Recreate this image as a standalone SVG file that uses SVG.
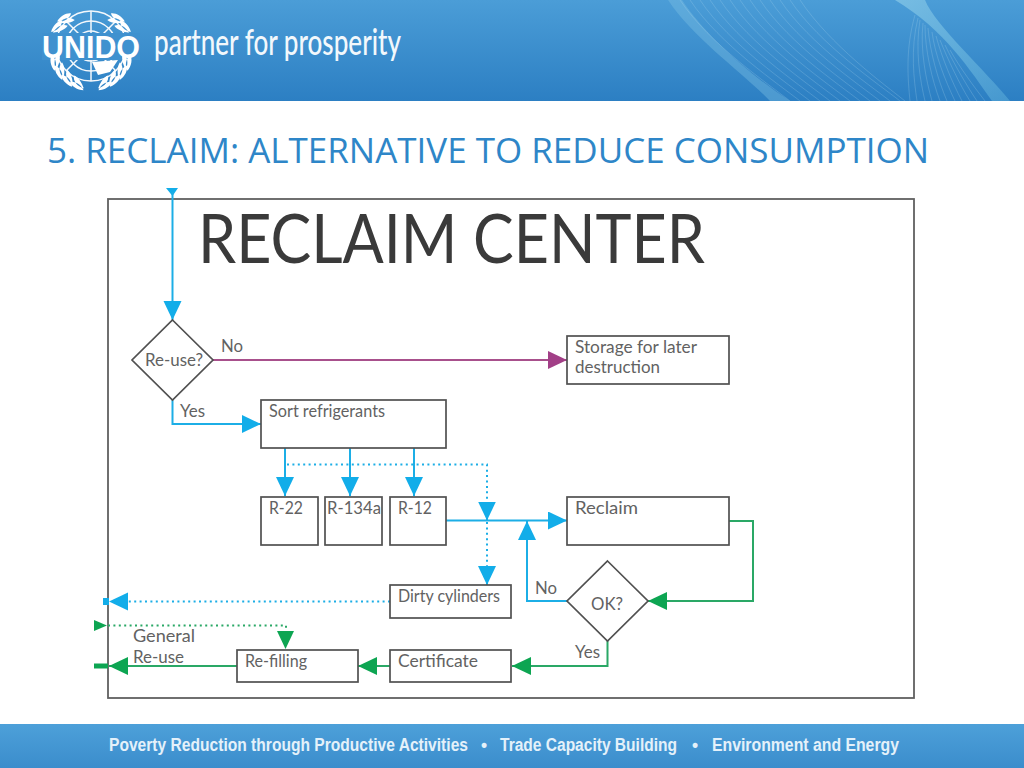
<svg xmlns="http://www.w3.org/2000/svg" xmlns:xlink="http://www.w3.org/1999/xlink" width="1024" height="768" viewBox="0 0 1024 768">
<style>
.box{fill:#fff;stroke:#505050;stroke-width:1.7}
.t{font-family:"Lato","Liberation Sans",sans-serif;font-size:17px;font-weight:400;fill:#626262}
.c{fill:none;stroke-width:2}
.dot{fill:none;stroke-width:2;stroke-dasharray:2 3.4}
.blue{stroke:#1caee6}.green{stroke:#2aa866}.purple{stroke:#a8508c}
.foot{font-family:"Liberation Sans Narrow","Liberation Sans",sans-serif;font-size:17.500px;font-weight:700;fill:#e4f1fa}
.wave{fill:none;stroke:#bfe0f2;stroke-width:.6;stroke-opacity:.35}
.leaf{fill:#fff}
.ring{fill:none;stroke:#f4f8fc;stroke-width:1.5}
</style>
<defs>
<linearGradient id="hd" x1="0" y1="0" x2="0" y2="1"><stop offset="0" stop-color="#4b9dd7"/><stop offset="1" stop-color="#2c7fc3"/></linearGradient>
<linearGradient id="ft" x1="0" y1="0" x2="0" y2="1"><stop offset="0" stop-color="#4da0d9"/><stop offset="1" stop-color="#3b8dcc"/></linearGradient>
<linearGradient id="sw" x1="0" y1="0" x2="1" y2="1"><stop offset="0" stop-color="#7cc0e4" stop-opacity=".9"/><stop offset="1" stop-color="#5fb0da" stop-opacity=".5"/></linearGradient>
<marker id="aB" markerUnits="userSpaceOnUse" markerWidth="20" markerHeight="19" refX="19" refY="9" orient="auto"><path d="M0 0L19 9L0 18Z" fill="#12ade9"/></marker>
<marker id="aG" markerUnits="userSpaceOnUse" markerWidth="20" markerHeight="19" refX="19" refY="9" orient="auto"><path d="M0 0L19 9L0 18Z" fill="#0da552"/></marker>
<marker id="aP" markerUnits="userSpaceOnUse" markerWidth="20" markerHeight="19" refX="19" refY="9" orient="auto"><path d="M0 0L19 9L0 18Z" fill="#a23f87"/></marker>
<path id="lf" d="M91 91C85 92 78 89 76 85C82 83 88 86 91 91ZM91 89C88 84 84 79 79 78C79 84 84 88 91 89Z"/>
</defs>

<g id="header">
<rect width="1024" height="101" fill="url(#hd)"/>
<path d="M668 0C695 40 740 70 770 101L790 101C750 75 705 35 682 0Z" fill="#7cc0e4" fill-opacity=".4"/>
<path d="M895 0L925 0C935 25 985 70 1010 101L992 101C970 70 945 30 895 0Z" fill="url(#sw)"/>
<path class="wave" d="M680 0C710 45 770 85 790 101M690 0C720 45 780 85 800 101M700 0C730 45 790 85 810 101M710 0C740 45 800 85 820 101M720 0C750 45 810 85 830 101M730 0C760 45 820 85 840 101M740 0C770 45 830 85 850 101M750 0C780 45 840 85 860 101M760 0C790 45 850 85 870 101M770 0C800 45 860 85 880 101M780 0C810 45 870 85 890 101M790 0C820 45 880 85 900 101M800 0C830 45 885 85 905 101"/>
<path class="wave" d="M915 15C905 50 908 80 910 101M918 18C910 50 914 80 917 101M920 20C915 50 920 80 925 101M923 23C920 50 926 80 932 101M925 25C925 50 932 80 940 101M928 28C930 52 938 80 947 101M932 32C935 55 945 80 955 101M936 36C942 58 952 82 962 101M940 40C948 60 960 85 970 101M945 45C954 64 967 86 977 101M950 50C960 68 975 88 985 101"/>
<g id="logo">
<circle class="ring" cx="91" cy="46" r="35"/>
<circle class="ring" cx="91" cy="46" r="25"/>
<circle class="ring" cx="91" cy="46" r="15"/>
<path class="ring" d="M91 11V81M56 46H126M66 21L116 71M116 21L66 71"/>
<rect x="42" y="33" width="98" height="27" fill="#3f91cf"/>
<path d="M92 62L118 60L110 72L98 75Z" fill="#fff"/>
<g class="leaf">
<use xlink:href="#lf" href="#lf" transform="rotate(10 91 48)"/><use xlink:href="#lf" href="#lf" transform="rotate(26 91 48)"/><use xlink:href="#lf" href="#lf" transform="rotate(42 91 48)"/><use xlink:href="#lf" href="#lf" transform="rotate(58 91 48)"/><use xlink:href="#lf" href="#lf" transform="rotate(112 91 48)"/><use xlink:href="#lf" href="#lf" transform="rotate(128 91 48)"/>
<use xlink:href="#lf" href="#lf" transform="translate(182 0) scale(-1 1) rotate(10 91 48)"/><use xlink:href="#lf" href="#lf" transform="translate(182 0) scale(-1 1) rotate(26 91 48)"/><use xlink:href="#lf" href="#lf" transform="translate(182 0) scale(-1 1) rotate(42 91 48)"/><use xlink:href="#lf" href="#lf" transform="translate(182 0) scale(-1 1) rotate(58 91 48)"/><use xlink:href="#lf" href="#lf" transform="translate(182 0) scale(-1 1) rotate(112 91 48)"/><use xlink:href="#lf" href="#lf" transform="translate(182 0) scale(-1 1) rotate(128 91 48)"/>
</g>
<text x="42" y="58" font-family="'Liberation Sans',sans-serif" font-size="32" font-weight="700" fill="#fff" textLength="98" lengthAdjust="spacingAndGlyphs">UNIDO</text>
</g>
<text x="154" y="55" font-family="'Lato','Liberation Sans',sans-serif" font-size="36" font-weight="500" fill="#f2f8fc" textLength="247" lengthAdjust="spacingAndGlyphs">partner for prosperity</text>
</g>

<text id="title" x="47" y="163" font-family="'Open Sans','Liberation Sans',sans-serif" font-size="34.500" fill="#2e86c8" textLength="882" lengthAdjust="spacingAndGlyphs">5. RECLAIM: ALTERNATIVE TO REDUCE CONSUMPTION</text>

<rect id="frame" x="108" y="199" width="806" height="499" fill="#fff" stroke="#606060" stroke-width="1.8"/>
<text id="heading" x="198" y="263" font-family="'Lato','Liberation Sans',sans-serif" font-size="67" font-weight="400" fill="#3a3a3a" textLength="507" lengthAdjust="spacingAndGlyphs">RECLAIM CENTER</text>

<g id="connectors">
<path d="M166 188H178L172.500 196Z" fill="#12ade9"/>
<path class="c blue" d="M172.500 192V320" marker-end="url(#aB)"/>
<path class="c purple" d="M213 360H567" marker-end="url(#aP)"/>
<path class="c blue" d="M172.500 400V424H261" marker-end="url(#aB)"/>
<path class="c blue" d="M285 448V496" marker-end="url(#aB)"/>
<path class="c blue" d="M350 448V496" marker-end="url(#aB)"/>
<path class="c blue" d="M414 448V496" marker-end="url(#aB)"/>
<path class="dot blue" d="M287 464.500H487V502"/>
<path class="c blue" d="M487 502V520.500" marker-end="url(#aB)"/>
<path class="c blue" d="M446 520.500H567" marker-end="url(#aB)"/>
<path class="dot blue" d="M487 522V570"/>
<path class="c blue" d="M487 568V585" marker-end="url(#aB)"/>
<path class="c blue" d="M567 601H527V521" marker-end="url(#aB)"/>
<path class="c green" d="M729 521H753V601H648" marker-end="url(#aG)"/>
<path class="c green" d="M607.500 641V666H512" marker-end="url(#aG)"/>
<path class="c green" d="M390 666H358" marker-end="url(#aG)"/>
<path class="c green" d="M237 666H109" marker-end="url(#aG)"/>
<path d="M94 663.500H108V668.500H94Z" fill="#0da552"/>
<path class="dot blue" d="M390 601.500H125"/>
<path d="M128 592.500L109 601.500L128 610.500Z" fill="#12ade9"/>
<path d="M103 598H109V605H103Z" fill="#12ade9"/>
<path class="dot green" d="M108 625.500H286V632"/>
<path d="M94 620L107 625.500L94 631Z" fill="#0da552"/>
<path d="M277 631H294L285.500 649Z" fill="#0da552"/>
</g>

<g id="reuse"><path class="box" d="M172.500 320L213 360L172.500 400L132 360Z"/><text class="t" x="145" y="366" textLength="58" lengthAdjust="spacingAndGlyphs">Re-use?</text></g>
<g id="storage"><rect class="box" x="567" y="336" width="162" height="48"/><text class="t" x="575" y="353" textLength="122" lengthAdjust="spacingAndGlyphs">Storage for later</text><text class="t" x="575" y="373" textLength="85" lengthAdjust="spacingAndGlyphs">destruction</text></g>
<g id="sort"><rect class="box" x="261" y="400" width="185" height="48"/><text class="t" x="269" y="417" textLength="116" lengthAdjust="spacingAndGlyphs">Sort refrigerants</text></g>
<g id="r22"><rect class="box" x="261" y="497" width="57" height="48"/><text class="t" x="269" y="514" textLength="34" lengthAdjust="spacingAndGlyphs">R-22</text></g>
<g id="r134a"><rect class="box" x="325" y="497" width="57" height="48"/><text class="t" x="327" y="514" textLength="54" lengthAdjust="spacingAndGlyphs">R-134a</text></g>
<g id="r12"><rect class="box" x="390" y="497" width="56" height="48"/><text class="t" x="398" y="514" textLength="34" lengthAdjust="spacingAndGlyphs">R-12</text></g>
<g id="reclaim"><rect class="box" x="567" y="497" width="162" height="48"/><text class="t" x="575" y="514" textLength="63" lengthAdjust="spacingAndGlyphs">Reclaim</text></g>
<g id="ok"><path class="box" d="M607.500 561L648 601L607.500 641L567 601Z"/><text class="t" x="591" y="610" textLength="32" lengthAdjust="spacingAndGlyphs">OK?</text></g>
<g id="dirty"><rect class="box" x="390" y="585" width="121" height="33"/><text class="t" x="398" y="602" textLength="102" lengthAdjust="spacingAndGlyphs">Dirty cylinders</text></g>
<g id="certificate"><rect class="box" x="390" y="650" width="121" height="32"/><text class="t" x="398" y="667" textLength="80" lengthAdjust="spacingAndGlyphs">Certificate</text></g>
<g id="refilling"><rect class="box" x="237" y="650" width="121" height="32"/><text class="t" x="245" y="667" textLength="62" lengthAdjust="spacingAndGlyphs">Re-filling</text></g>

<g id="labels">
<text class="t" x="221" y="352" textLength="22" lengthAdjust="spacingAndGlyphs">No</text>
<text class="t" x="180" y="417" textLength="25" lengthAdjust="spacingAndGlyphs">Yes</text>
<text class="t" x="535" y="594" textLength="22" lengthAdjust="spacingAndGlyphs">No</text>
<text class="t" x="575" y="658" textLength="25" lengthAdjust="spacingAndGlyphs">Yes</text>
<text class="t" x="133" y="642" textLength="62" lengthAdjust="spacingAndGlyphs">General</text>
<text class="t" x="133" y="663" textLength="51" lengthAdjust="spacingAndGlyphs">Re-use</text>
</g>

<g id="footer">
<rect y="724" width="1024" height="44" fill="url(#ft)"/>
<text class="foot" x="109" y="751" textLength="359" lengthAdjust="spacingAndGlyphs">Poverty Reduction through Productive Activities</text>
<text class="foot" x="481" y="751">•</text>
<text class="foot" x="500" y="751" textLength="177" lengthAdjust="spacingAndGlyphs">Trade Capacity Building</text>
<text class="foot" x="692" y="751">•</text>
<text class="foot" x="712" y="751" textLength="187" lengthAdjust="spacingAndGlyphs">Environment and Energy</text>
</g>
</svg>
